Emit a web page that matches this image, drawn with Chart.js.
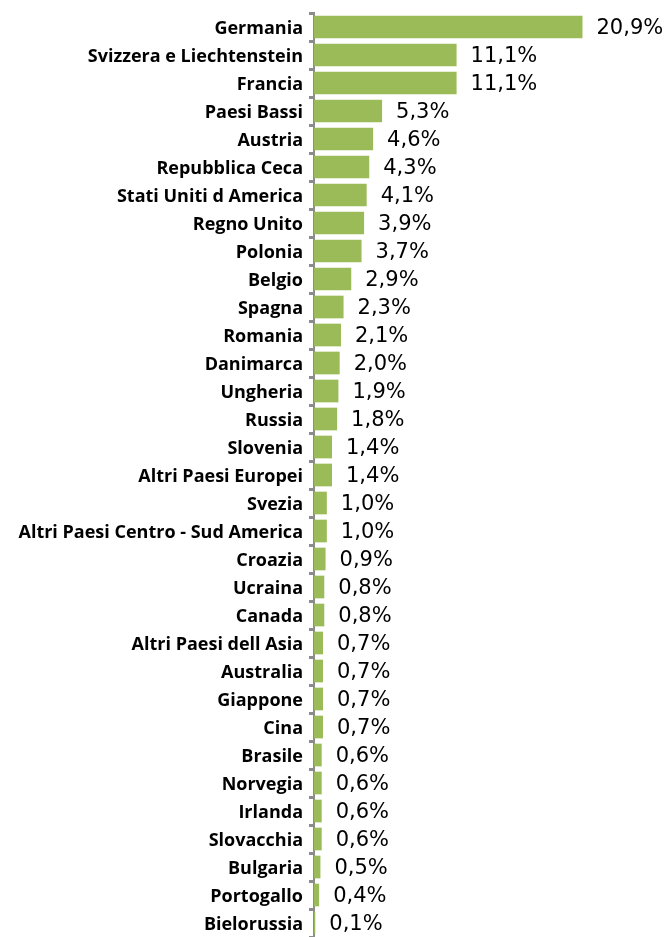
<!DOCTYPE html>
<html>
<head>
<meta charset="utf-8">
<script src="https://cdn.jsdelivr.net/npm/chart.js@4"></script>
<style>
    html, body { margin: 0; padding: 0; background: #fff; }
    #wrap { width: 669px; height: 937px; position: relative; }
</style>
</head>
<body>
<div id="wrap"><canvas id="paesiChart"></canvas></div>
<script>
// ==================== DATA ====================
const paesi = [
    'Germania', 'Svizzera e Liechtenstein', 'Francia', 'Paesi Bassi', 'Austria',
    'Repubblica Ceca', 'Stati Uniti d America', 'Regno Unito', 'Polonia', 'Belgio',
    'Spagna', 'Romania', 'Danimarca', 'Ungheria', 'Russia', 'Slovenia',
    'Altri Paesi Europei', 'Svezia', 'Altri Paesi Centro - Sud America', 'Croazia',
    'Ucraina', 'Canada', 'Altri Paesi dell Asia', 'Australia', 'Giappone', 'Cina',
    'Brasile', 'Norvegia', 'Irlanda', 'Slovacchia', 'Bulgaria', 'Portogallo', 'Bielorussia'
];
const quote = [
    20.9, 11.1, 11.1, 5.3, 4.6, 4.3, 4.1, 3.9, 3.7, 2.9,
    2.3, 2.1, 2.0, 1.9, 1.8, 1.4, 1.4, 1.0, 1.0, 0.9,
    0.8, 0.8, 0.7, 0.7, 0.7, 0.7, 0.6, 0.6, 0.6, 0.6, 0.5, 0.4, 0.1
];

// value labels to the right of each bar
const valueLabels = {
    id: 'valueLabels',
    afterDatasetsDraw(chart) {
        const ctx = chart.ctx;
        const meta = chart.getDatasetMeta(0);
        ctx.save();
        ctx.font = '21px "DejaVu Sans"';
        ctx.fillStyle = '#000';
        ctx.textAlign = 'left';
        ctx.textBaseline = 'middle';
        meta.data.forEach((bar, i) => {
            const txt = quote[i].toFixed(1).replace('.', ',') + '%';
            ctx.fillText(txt, bar.x + 14, bar.y + 2);
        });
        ctx.restore();
    }
};

const ctx = document.getElementById('paesiChart').getContext('2d');
new Chart(ctx, {
    type: 'bar',
    data: {
        labels: paesi,
        datasets: [{
            data: quote,
            backgroundColor: '#9bbb59',
            borderWidth: 0,
            barPercentage: 1,
            categoryPercentage: 0.81,
        }]
    },
    options: {
        indexAxis: 'y',
        responsive: true,
        maintainAspectRatio: false,
        animation: false,
        layout: { padding: { top: 13, right: 21, bottom: 0, left: 0 } },
        plugins: {
            legend: { display: false },
            tooltip: { enabled: false }
        },
        scales: {
            x: {
                display: false,
                min: 0,
                max: 26
            },
            y: {
                afterFit: s => {
                    s.width = 314;
                    s.paddingTop = 0;
                    s.paddingBottom = 0;
                },
                border: { display: true, color: '#8c8c8c', width: 2 },
                grid: {
                    offset: true,
                    drawOnChartArea: false,
                    drawTicks: true,
                    tickLength: 5,
                    color: '#8c8c8c',
                    lineWidth: 3
                },
                ticks: {
                    color: '#000',
                    padding: 6,
                    labelOffset: 2,
                    autoSkip: false,
                    font: { family: 'Open Sans', size: 18, weight: 'bold' }
                }
            }
        }
    },
    plugins: [valueLabels]
});
</script>
</body>
</html>
